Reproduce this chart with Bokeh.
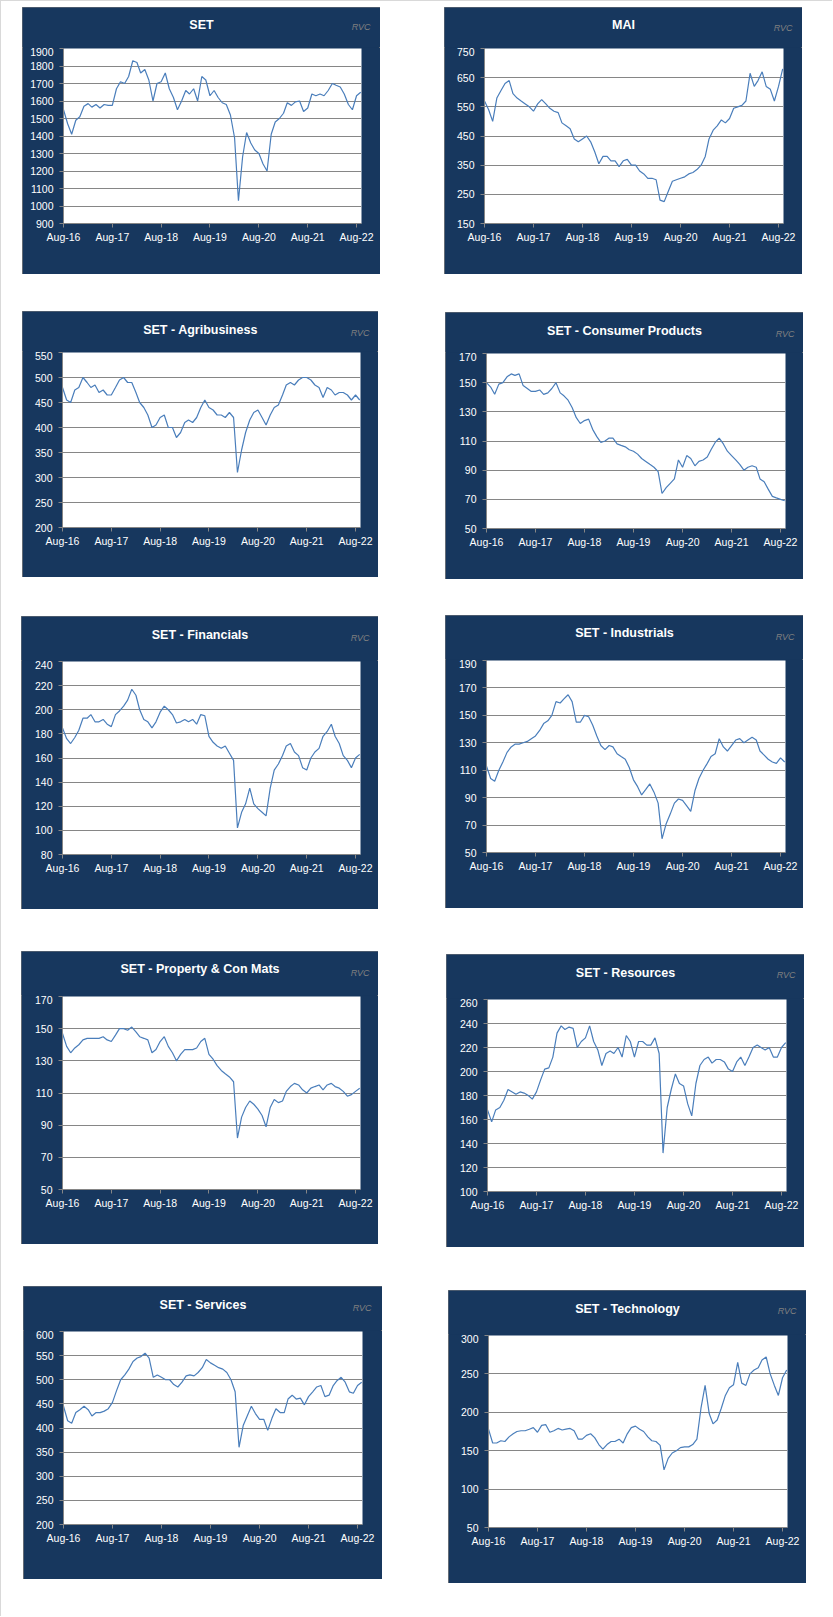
import pandas as pd
from bokeh.plotting import figure
from bokeh.models import (FixedTicker, DatetimeTickFormatter, Range1d,
                          Spacer, ColumnDataSource)
from bokeh.layouts import row, column
from bokeh.core.properties import value
from bokeh.embed import file_html
from bokeh.resources import INLINE

# ---------------- data ----------------
months = pd.date_range("2016-08-01", "2022-09-01", freq="MS")  # Aug-16 .. Sep-22 (74)
x_tick_dates = ["2016-08-01", "2017-08-01", "2018-08-01", "2019-08-01",
                "2020-08-01", "2021-08-01", "2022-08-01"]
x_tick_format = "%b-%y"
x_start, x_end = "2016-08-01", "2022-09-07"

set_vals = [1550, 1470, 1410, 1490, 1510, 1570, 1585, 1565, 1580, 1560, 1580, 1575,
            1575, 1670, 1710, 1700, 1740, 1830, 1820, 1760, 1780, 1720, 1600, 1700,
            1710, 1760, 1670, 1620, 1550, 1600, 1660, 1640, 1670, 1600, 1740, 1720,
            1630, 1660, 1620, 1590, 1580, 1520, 1390, 1030, 1280, 1420, 1360, 1320,
            1300, 1240, 1200, 1410, 1480, 1500, 1530, 1590, 1575, 1595, 1600, 1540,
            1560, 1640, 1630, 1640, 1630, 1660, 1700, 1690, 1680, 1640, 1580, 1550,
            1630, 1650]
mai_vals = [570, 540, 500, 580, 605, 630, 640, 595, 580, 570, 560, 550,
            535, 560, 575, 560, 545, 535, 530, 495, 485, 475, 440, 430,
            440, 450, 430, 395, 355, 380, 380, 365, 365, 345, 365, 370,
            350, 350, 330, 320, 305, 305, 300, 230, 225, 260, 295, 300,
            305, 310, 320, 325, 335, 350, 380, 440, 470, 485, 505, 495,
            510, 545, 550, 555, 570, 665, 620, 640, 670, 620, 610, 570,
            620, 680]
agri_vals = [480, 455, 450, 475, 480, 500, 490, 480, 485, 470, 475, 465,
             465, 480, 495, 500, 490, 490, 470, 450, 440, 425, 400, 405,
             420, 425, 400, 400, 380, 390, 410, 415, 410, 420, 440, 455,
             440, 435, 425, 425, 420, 430, 420, 310, 355, 390, 415, 430,
             435, 420, 405, 425, 440, 445, 465, 485, 490, 485, 495, 500,
             500, 495, 485, 480, 460, 480, 475, 465, 470, 470, 465, 455,
             465, 455]
cons_vals = [150, 147, 142, 149, 150, 154, 156, 155, 156, 148, 146, 144,
             144, 145, 142, 143, 146, 150, 143, 141, 138, 133, 126, 122,
             124, 125, 118, 113, 109, 110, 112, 112, 108, 107, 106, 104,
             103, 101, 98, 96, 94, 92, 89, 74, 78, 81, 84, 97,
             92, 100, 98, 93, 96, 97, 99, 104, 109, 112, 108, 103,
             100, 97, 94, 90, 92, 93, 92, 84, 82, 77, 72, 71,
             70, 69]
fin_vals = [185, 176, 172, 177, 183, 193, 193, 196, 190, 190, 192, 188,
            186, 196, 199, 203, 208, 217, 212, 200, 192, 190, 185, 190,
            198, 203, 200, 196, 189, 190, 192, 190, 192, 188, 196, 195,
            178, 173, 170, 168, 170, 164, 158, 102, 115, 122, 135, 122,
            118, 115, 112, 135, 150, 155, 162, 170, 172, 165, 162, 152,
            150, 160, 165, 168, 178, 182, 188, 178, 172, 162, 158, 152,
            160, 163]
ind_vals = [113, 104, 102, 110, 116, 123, 127, 129, 129, 130, 131, 133,
            135, 139, 144, 146, 150, 160, 159, 162, 165, 160, 145, 145,
            150, 149, 143, 135, 128, 125, 128, 127, 122, 120, 118, 112,
            103, 98, 92, 96, 100, 94, 86, 60, 71, 78, 86, 89,
            88, 84, 80, 95, 104, 110, 115, 120, 122, 133, 127, 124,
            128, 132, 133, 130, 132, 134, 132, 124, 121, 118, 116, 115,
            119, 116]
prop_vals = [147, 139, 135, 138, 140, 143, 144, 144, 144, 144, 145, 143,
             142, 146, 150, 150, 149, 151, 148, 145, 144, 143, 135, 137,
             142, 145, 139, 135, 130, 134, 137, 137, 137, 138, 142, 144,
             134, 131, 127, 124, 122, 120, 117, 82, 95, 101, 105, 103,
             100, 96, 89, 101, 106, 104, 105, 111, 114, 116, 115, 112,
             110, 113, 114, 115, 112, 115, 116, 114, 113, 111, 108, 109,
             111, 113]
res_vals = [168, 158, 168, 170, 176, 185, 183, 181, 183, 182, 180, 177,
            183, 193, 202, 203, 212, 232, 238, 235, 237, 236, 220, 225,
            228, 238, 225, 218, 205, 215, 217, 215, 220, 212, 230, 225,
            212, 225, 225, 222, 222, 228, 215, 132, 170, 185, 198, 190,
            188, 173, 163, 190, 205, 210, 212, 207, 210, 210, 208, 202,
            200, 208, 212, 205, 212, 220, 222, 220, 218, 220, 212, 212,
            220, 224]
serv_vals = [445, 415, 410, 432, 438, 445, 438, 425, 432, 432, 435, 440,
             453, 478, 500, 510, 522, 538, 545, 548, 555, 545, 505, 510,
             505, 500, 500, 490, 485, 495, 508, 510, 508, 515, 525, 542,
             535, 530, 525, 522, 515, 500, 475, 360, 405, 425, 445, 430,
             418, 418, 395, 420, 440, 432, 432, 460, 468, 460, 462, 448,
             465, 475, 485, 488, 465, 468, 488, 498, 505, 495, 475, 472,
             488, 495]
tech_vals = [178, 160, 160, 163, 162, 168, 172, 175, 176, 176, 178, 180,
             174, 183, 184, 174, 176, 179, 177, 178, 179, 176, 165, 165,
             170, 172, 167, 158, 152, 158, 162, 162, 165, 160, 172, 180,
             182, 178, 175, 168, 163, 162, 157, 125, 140, 147, 150, 154,
             155, 155, 158, 165, 205, 235, 198, 185, 190, 205, 222, 232,
             236, 265, 238, 235, 250, 255, 258, 268, 272, 250, 235, 222,
             245, 255]

titles = ["SET", "MAI", "SET - Agribusiness", "SET - Consumer Products",
          "SET - Financials", "SET - Industrials", "SET - Property & Con Mats",
          "SET - Resources", "SET - Services", "SET - Technology"]
series = [set_vals, mai_vals, agri_vals, cons_vals, fin_vals, ind_vals,
          prop_vals, res_vals, serv_vals, tech_vals]
y_axes = [(900, 1900, 100), (150, 750, 100), (200, 550, 50), (50, 170, 20),
          (80, 240, 20), (50, 190, 20), (50, 170, 20), (100, 260, 20),
          (200, 600, 50), (50, 300, 50)]
credit = "RVC"

# ---------------- layout (reference pixel geometry) ----------------
frames = [(22, 7, 380, 274), (444, 7, 802, 274), (22, 311, 378, 577), (445, 312, 803, 579),
          (21, 616, 378, 909), (445, 615, 803, 908), (21, 951, 378, 1244), (446, 954, 804, 1247),
          (23, 1286, 382, 1579), (448, 1290, 806, 1583)]
plots = [(63, 48, 361, 223), (484, 48, 783, 223), (62, 352, 360, 527), (486, 353, 785, 528),
         (62, 661, 360, 854), (486, 660, 785, 852), (62, 996, 360, 1189), (487, 999, 786, 1191),
         (63, 1331, 362, 1524), (488, 1335, 787, 1527)]
title_dy = [24, 24, 23, 23, 27, 28, 28, 27, 27, 27]
rvc_dy = [22, 21, 20, 20, 24, 24, 24, 25, 24, 25]
ORIGIN = 0  # observed page offset of the layout
PAGE_W, PAGE_H = 832, 1616

NAVY = "#17375E"
GRAY = "#868686"
LINE = "#4A7EBB"
FONT = "Liberation Sans"


def no_align(fig):
    try:
        fig.frame_align = False
    except Exception:
        pass


def make_panel(i):
    fx0, fy0, fx1, fy1 = frames[i]
    px0, py0, px1, py1 = plots[i]
    W, H = fx1 - fx0, fy1 - fy0
    top = py0 - fy0
    hh = top - 1  # header strip height; main figure keeps 1px top border

    # header strip with title and credit
    hdr = figure(width=W, height=hh, output_backend="svg", toolbar_location=None,
                 title=None, x_axis_type=None, y_axis_type=None,
                 x_range=Range1d(0, W), y_range=Range1d(0, hh), min_border=0)
    no_align(hdr)
    hdr.background_fill_color = NAVY
    hdr.border_fill_color = NAVY
    hdr.outline_line_color = None
    hdr.xgrid.visible = False
    hdr.ygrid.visible = False
    hdr.text(x=[W / 2], y=[title_dy[i] - 1], text=[titles[i]], text_align="center",
             text_baseline="middle", text_color="white", text_font=value(FONT),
             text_font_style="bold", text_font_size=value("12.5px"))
    hdr.text(x=[(px1 - fx0) + 9], y=[rvc_dy[i] - 1], text=[credit], text_align="right",
             text_baseline="middle", text_color="#808080", text_font=value(FONT),
             text_font_style="italic", text_font_size=value("9px"))

    lo, hi, step = y_axes[i]
    p = figure(width=W, height=H - hh, x_axis_type="datetime", output_backend="svg",
               toolbar_location=None, title=None,
               x_range=Range1d(pd.Timestamp(x_start), pd.Timestamp(x_end)),
               y_range=Range1d(lo, hi),
               min_border_left=px0 - fx0, min_border_right=fx1 - px1,
               min_border_top=1, min_border_bottom=fy1 - py1)
    no_align(p)
    p.background_fill_color = "white"
    p.border_fill_color = NAVY
    p.outline_line_color = None

    src = ColumnDataSource(dict(x=months, y=series[i]))
    p.line("x", "y", source=src, line_color=LINE, line_width=1.2)

    p.yaxis.ticker = FixedTicker(ticks=list(range(lo, hi + 1, step)))
    p.xaxis.ticker = FixedTicker(ticks=[pd.Timestamp(d).value / 1e6 for d in x_tick_dates])
    p.xaxis.formatter = DatetimeTickFormatter(
        milliseconds=x_tick_format, seconds=x_tick_format, minsec=x_tick_format,
        minutes=x_tick_format, hourmin=x_tick_format, hours=x_tick_format,
        days=x_tick_format, months=x_tick_format, years=x_tick_format)
    for ax in (p.xaxis[0], p.yaxis[0]):
        ax.axis_line_color = GRAY
        ax.major_tick_line_color = GRAY
        ax.major_tick_out = 4
        ax.major_tick_in = 0
        ax.minor_tick_line_color = None
        ax.major_label_text_color = "white"
        ax.major_label_text_font = FONT
        ax.major_label_text_font_size = "10.5px"
    p.yaxis.major_label_standoff = 6
    p.xaxis.major_label_standoff = 3
    p.xgrid.grid_line_color = None
    p.ygrid.grid_line_color = GRAY
    p.ygrid.grid_line_width = 1

    return column(hdr, p, styles={"outline": "1px solid #7F7F7F",
                                  "outline-offset": "-1px",
                                  "background-color": NAVY})


def build_column(indices, col_x, total_h):
    children = []
    cur_y = ORIGIN
    for i in indices:
        fx0, fy0, fx1, fy1 = frames[i]
        gap = max(0, fy0 - cur_y)
        if gap > 0:
            children.append(Spacer(width=1, height=gap))
        dx = fx0 - col_x
        panel = make_panel(i)
        if dx > 0:
            children.append(row(Spacer(width=dx, height=fy1 - fy0), panel))
        else:
            children.append(panel)
        cur_y += gap + (fy1 - fy0)
    if total_h - cur_y > 0:
        children.append(Spacer(width=1, height=total_h - cur_y))
    return column(*children)


left_idx = [0, 2, 4, 6, 8]
right_idx = [1, 3, 5, 7, 9]
left_width = max(frames[i][2] - ORIGIN for i in left_idx)
right_end = max(frames[i][2] for i in right_idx)
left = build_column(left_idx, ORIGIN, PAGE_H)
right = build_column(right_idx, ORIGIN + left_width, PAGE_H)
layout = row(left, right, Spacer(width=PAGE_W - right_end, height=1),
             styles={"box-shadow": "inset 1px 1px 0 #D9D9D9"})

open("out.html", "w").write(file_html(layout, INLINE))
